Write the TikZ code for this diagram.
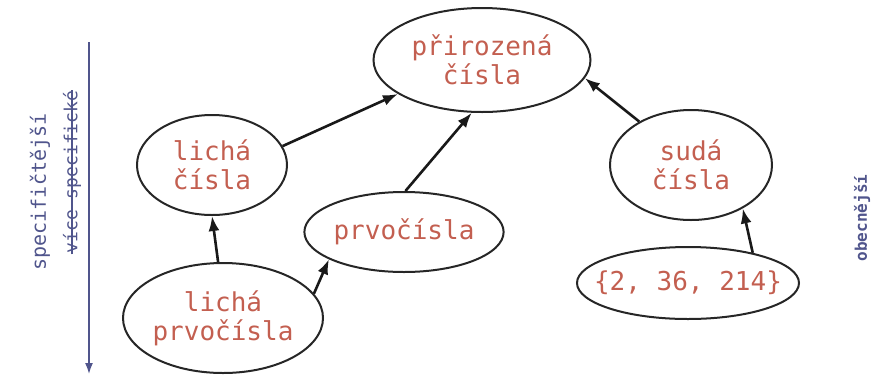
\documentclass[tikz,border=0pt]{standalone}
\usepackage{fontspec}
\setmainfont{DejaVu Sans Mono}
\usetikzlibrary{shapes.geometric,arrows.meta}
\definecolor{ink}{RGB}{195,95,80}
\definecolor{axisc}{RGB}{80,85,140}
\tikzset{
  set/.style={ellipse, draw=black!85, line width=2pt, inner sep=0pt, text=ink, align=center, font=\fontsize{26}{29}\selectfont},
  link/.style={-{Latex[length=15pt,width=11pt]}, line width=2.6pt, black!90},
  sidelabel/.style={text=axisc, rotate=90, inner sep=1pt}
}
\begin{document}
\begin{tikzpicture}[x=1pt,y=-1pt]
\useasboundingbox (0,0) rectangle (879,376);
\node[set, minimum width=217pt, minimum height=104pt] (nat) at (482,60) {přirozená\\čísla};
\node[set, minimum width=150pt, minimum height=100pt] (odd) at (212,165) {lichá\\čísla};
\node[set, minimum width=188pt, minimum height=80pt] (prime) at (404,232) {prvočísla};
\node[set, minimum width=162pt, minimum height=110pt] (even) at (691,165) {sudá\\čísla};
\node[set, minimum width=222pt, minimum height=72pt, inner xsep=-17pt] (ex) at (688,283) {\{2, 36, 214\}};
\node[set, minimum width=200pt, minimum height=110pt] (oddprime) at (223,318) {lichá\\prvočísla};
\draw[link] (odd.15) -- (nat.202);
\draw[link] (prime.88) -- (nat.259);
\draw[link] (even.140) -- (nat.-10);
\draw[link] (oddprime.95) -- (odd.south);
\draw[link] (oddprime.15) -- (prime.200);
\draw[link] (ex.25) -- (even.-40);
\coordinate (atop) at (89,42);
\coordinate (abot) at (89,374);
\draw[axisc, line width=1.6pt, -{Latex[length=11pt,width=8pt]}] (atop) -- (abot);
\node[sidelabel, font=\fontsize{20}{22}\selectfont] (spec) at (40,192) {specifičtější};
\node[sidelabel, font=\fontsize{18}{20}\selectfont] (old) at (72,172) {více specifické};
\draw[axisc, line width=1.6pt] (old.west) -- (old.east);
\node[sidelabel, font=\bfseries\fontsize{16}{18}\selectfont] (gen) at (862,218) {obecnější};
\end{tikzpicture}
\end{document}
